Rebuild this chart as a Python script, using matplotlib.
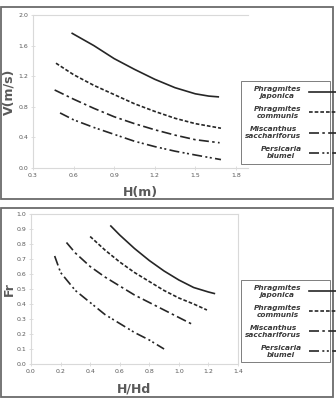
import matplotlib.pyplot as plt
from matplotlib.patches import Rectangle

# top chart: velocity vs depth
names = ["Phragmites\njaponica", "Phragmites\ncommunis",
         "Miscanthus\nsacchariforus", "Persicaria\nblumei"]

h_japonica = [0.59, 0.75, 0.9, 1.05, 1.2, 1.35, 1.5, 1.6, 1.67]
v_japonica = [1.76, 1.60, 1.43, 1.29, 1.16, 1.05, 0.97, 0.94, 0.93]
h_communis = [0.47, 0.6, 0.75, 0.9, 1.05, 1.2, 1.35, 1.5, 1.69]
v_communis = [1.37, 1.22, 1.08, 0.96, 0.84, 0.74, 0.65, 0.58, 0.52]
h_miscanthus = [0.46, 0.6, 0.75, 0.9, 1.05, 1.2, 1.35, 1.5, 1.68]
v_miscanthus = [1.02, 0.90, 0.78, 0.67, 0.58, 0.50, 0.43, 0.37, 0.33]
h_persicaria = [0.50, 0.6, 0.75, 0.9, 1.05, 1.2, 1.35, 1.5, 1.69]
v_persicaria = [0.72, 0.63, 0.53, 0.44, 0.35, 0.28, 0.22, 0.17, 0.11]

# bottom chart: Froude number vs relative depth
r_japonica = [0.54, 0.6, 0.7, 0.8, 0.9, 1.0, 1.1, 1.2, 1.24]
fr_japonica = [0.92, 0.86, 0.77, 0.69, 0.62, 0.56, 0.51, 0.48, 0.47]
r_communis = [0.40, 0.5, 0.6, 0.7, 0.8, 0.9, 1.0, 1.1, 1.19]
fr_communis = [0.85, 0.76, 0.68, 0.61, 0.55, 0.49, 0.44, 0.40, 0.36]
r_miscanthus = [0.24, 0.3, 0.4, 0.5, 0.6, 0.7, 0.8, 0.9, 1.0, 1.10]
fr_miscanthus = [0.81, 0.74, 0.65, 0.58, 0.52, 0.46, 0.41, 0.36, 0.31, 0.26]
r_persicaria = [0.16, 0.2, 0.3, 0.4, 0.5, 0.6, 0.7, 0.8, 0.90]
fr_persicaria = [0.72, 0.61, 0.49, 0.41, 0.33, 0.27, 0.21, 0.16, 0.10]

v_ticks = [0.0, 0.4, 0.8, 1.2, 1.6, 2.0]
h_ticks = [0.3, 0.6, 0.9, 1.2, 1.5, 1.8]
fr_ticks = [0.0, 0.1, 0.2, 0.3, 0.4, 0.5, 0.6, 0.7, 0.8, 0.9, 1.0]
r_ticks = [0.0, 0.2, 0.4, 0.6, 0.8, 1.0, 1.2, 1.4]

styles = ["-", (0, (2.2, 1.2)), (0, (6, 2, 1.5, 2)), (0, (6, 2, 1.2, 1.5, 1.2, 2))]
line_col = "#262626"
grid_col = "#d9d9d9"
text_col = "#595959"

W, H = 336, 398
fig = plt.figure(figsize=(W / 100, H / 100), dpi=100)

def px_box(x0, y0, x1, y1):
    # pixel box (top-left origin) -> figure fraction rect
    return [x0 / W, 1 - y1 / H, (x1 - x0) / W, (y1 - y0) / H]

# outer panel borders
for (x0, y0, x1, y1) in [(1, 7, 333, 199), (1, 208, 333, 397)]:
    fig.patches.append(Rectangle((x0 / W, 1 - y1 / H), (x1 - x0) / W, (y1 - y0) / H,
                                 transform=fig.transFigure, fill=False,
                                 edgecolor="#6b6b6b", linewidth=1.3))

def style_axes(ax, right=False):
    for s in ["left", "bottom", "top"]:
        ax.spines[s].set_color(grid_col)
        ax.spines[s].set_linewidth(0.8)
    ax.spines["right"].set_visible(right)
    ax.spines["right"].set_color(grid_col)
    ax.spines["right"].set_linewidth(0.8)
    ax.tick_params(labelsize=4.5, colors=grid_col, labelcolor=text_col,
                   length=2.5, width=0.6, direction="inout", pad=2)

def add_legend(handles, rect):
    leg = fig.legend(handles, names, loc="center",
                     bbox_to_anchor=rect, bbox_transform=fig.transFigure,
                     mode="expand", markerfirst=False, frameon=True, fancybox=False,
                     prop={"size": 5.3, "style": "italic", "weight": "bold"},
                     handlelength=4.0, handletextpad=1.0, labelspacing=0.95,
                     borderpad=0.6, borderaxespad=0)
    leg.get_frame().set_edgecolor("#444444")
    leg.get_frame().set_linewidth(0.6)
    for t in leg.get_texts():
        t.set_multialignment("center")
        t.set_color("#3a3a3a")

# ---- top chart
ax1 = fig.add_axes(px_box(33, 15, 248, 168))
series1 = [(h_japonica, v_japonica), (h_communis, v_communis),
           (h_miscanthus, v_miscanthus), (h_persicaria, v_persicaria)]
hs = []
for (x, y), ls in zip(series1, styles):
    ln, = ax1.plot(x, y, color=line_col, linestyle=ls, linewidth=1.2)
    hs.append(ln)
ax1.set_xlim(0.3, 1.89)
ax1.set_ylim(0, 2.0)
ax1.set_xticks(h_ticks)
ax1.set_yticks(v_ticks)
ax1.set_xticklabels([f"{t:.1f}" for t in h_ticks])
ax1.set_yticklabels([f"{t:.1f}" for t in v_ticks])
style_axes(ax1)
ax1.set_xlabel("H(m)", fontsize=9, fontweight="bold", color=text_col)
ax1.set_ylabel("V(m/s)", fontsize=9, fontweight="bold", color=text_col)
ax1.xaxis.set_label_coords(0.5, -0.12)
ax1.yaxis.set_label_coords(-0.08, 0.5)
add_legend(hs, px_box(241, 78, 330, 167))

# ---- bottom chart
ax2 = fig.add_axes(px_box(31, 214, 238, 364))
series2 = [(r_japonica, fr_japonica), (r_communis, fr_communis),
           (r_miscanthus, fr_miscanthus), (r_persicaria, fr_persicaria)]
hs2 = []
for (x, y), ls in zip(series2, styles):
    ln, = ax2.plot(x, y, color=line_col, linestyle=ls, linewidth=1.2)
    hs2.append(ln)
ax2.set_xlim(0, 1.4)
ax2.set_ylim(0, 1.0)
ax2.set_xticks(r_ticks)
ax2.set_yticks(fr_ticks)
ax2.set_xticklabels([f"{t:.1f}" for t in r_ticks])
ax2.set_yticklabels([f"{t:.1f}" for t in fr_ticks])
style_axes(ax2, right=True)
ax2.set_xlabel("H/Hd", fontsize=9, fontweight="bold", color=text_col)
ax2.set_ylabel("Fr", fontsize=9, fontweight="bold", color=text_col)
ax2.xaxis.set_label_coords(0.5, -0.125)
ax2.yaxis.set_label_coords(-0.075, 0.5)
add_legend(hs2, px_box(241, 278, 330, 364))

fig.savefig("out.png", dpi=100)
